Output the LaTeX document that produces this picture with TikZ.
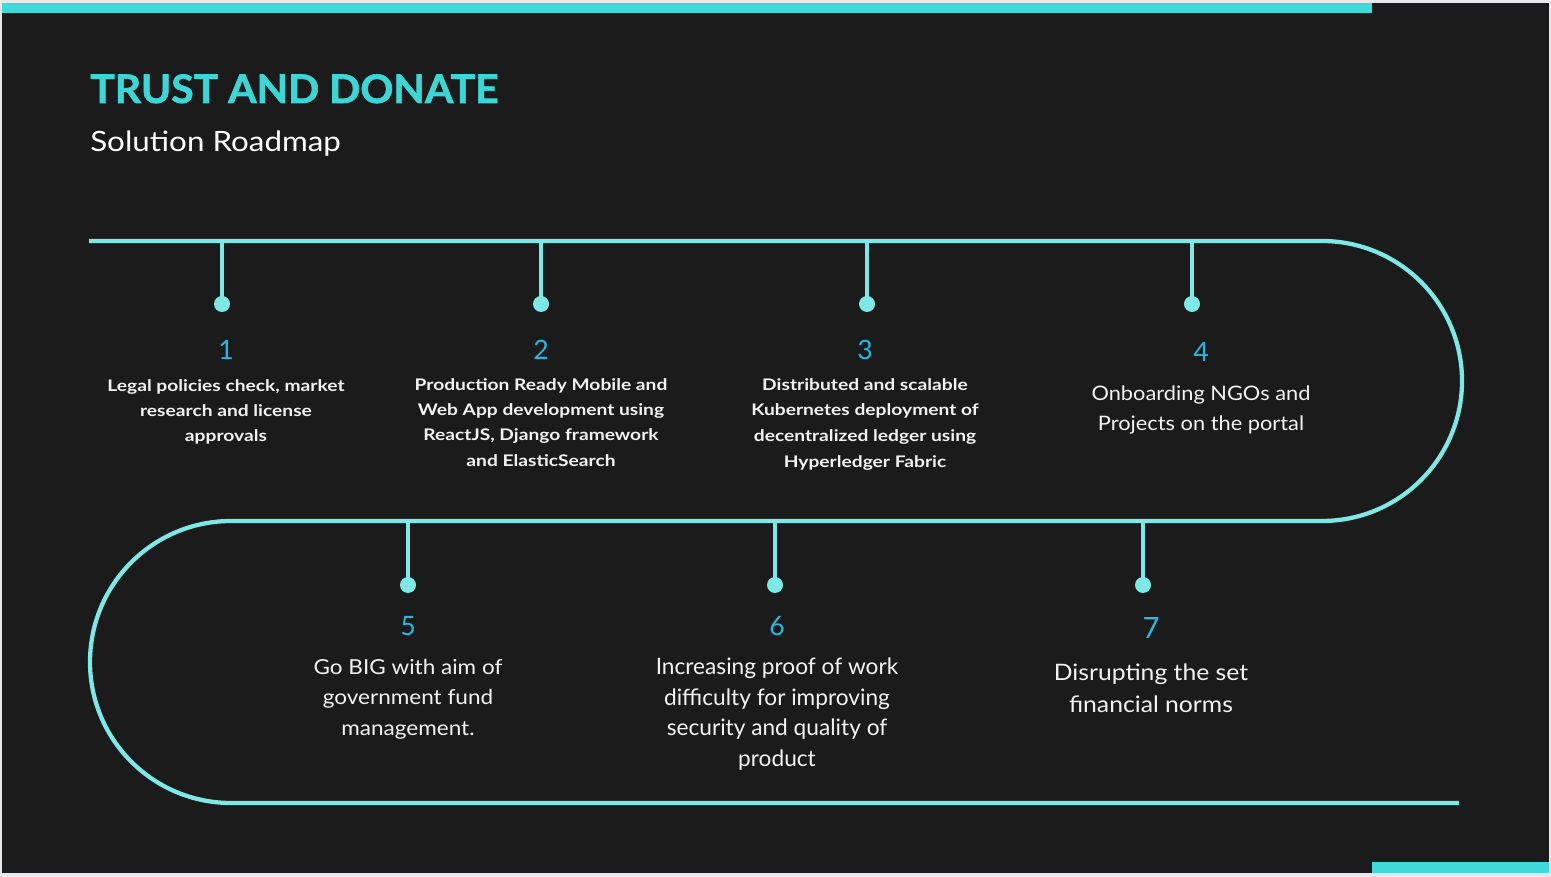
\documentclass[tikz,border=0pt]{standalone}
\usepackage{fontspec}
\setmainfont{Lato}
\setsansfont{Lato}
\newfontfamily\titlefont[FakeStretch=1.04, FakeBold=1.5]{Lato}
\newfontfamily\subfont[FakeStretch=1.12]{Lato}
\newfontfamily\stepfont[FakeStretch=1.2]{Lato}
\newfontfamily\widefont[FakeStretch=1.09]{Lato}
\usetikzlibrary{calc}
\definecolor{slidebg}{HTML}{1B1B1B}
\definecolor{slideedge}{HTML}{E6E8EB}
\definecolor{barcyan}{HTML}{40D9D9}
\definecolor{trackcyan}{HTML}{7EE8E6}
\definecolor{titlecyan}{HTML}{3DD6D6}
\definecolor{stepblue}{HTML}{29B6E0}
\definecolor{steptext}{HTML}{F2F2F2}

\begin{document}
\begin{tikzpicture}[
    x=0.75pt, y=0.75pt,
    track/.style={draw=trackcyan, line width=3.2pt},
    tickline/.style={draw=trackcyan, line width=2.6pt},
    stepdot/.style={circle, fill=trackcyan, inner sep=0pt,
                    minimum size=12pt},
    stepnum/.style={font=\fontsize{20}{24}\selectfont, text=stepblue,
                    inner sep=0pt},
    smalltext/.style={font=\stepfont\bfseries\fontsize{12}{19}\selectfont,
                      text=steptext, align=center, anchor=north,
                      inner sep=0pt},
    largetext/.style={font=\widefont\fontsize{15.5}{22.8}\selectfont,
                      text=steptext, align=center, anchor=north,
                      inner sep=0pt},
  ]

  % -----------------------------------------------------------
  % Slide background and accent bars
  % -----------------------------------------------------------
  \useasboundingbox (0,0) rectangle (1551,877);
  \fill[slideedge] (0,0) rectangle (1551,877);
  \fill[slidebg]   (2,4) rectangle (1549,874);
  \fill[barcyan]   (2,864) rectangle (1372,874);
  \fill[barcyan]   (1372,4) rectangle (1549,15);

  % -----------------------------------------------------------
  % Title
  % -----------------------------------------------------------
  \node[anchor=base west, inner sep=0pt, text=titlecyan,
        font=\titlefont\bfseries\fontsize{29.5}{34}\selectfont] (title)
        at (90,774) {TRUST AND DONATE};
  \node[anchor=base west, inner sep=0pt, text=white,
        font=\subfont\fontsize{21}{25}\selectfont] (subtitle) at (90,725)
        {Solution Roadmap};

  % -----------------------------------------------------------
  % Winding track (top run, right bend, middle run, left bend, bottom run)
  % -----------------------------------------------------------
  \coordinate (trkstart) at (89,636);
  \coordinate (trkright) at (1322,636);
  \coordinate (trkmid)   at (231,356);
  \coordinate (trkend)   at (1459,74);

  \draw[track] (trkstart) -- (trkright)
               arc[start angle=90, end angle=-90, radius=140]
               -- (trkmid)
               arc[start angle=90, end angle=270, radius=141]
               -- (trkend);

  % -----------------------------------------------------------
  % Milestone ticks and dots
  % -----------------------------------------------------------
  \coordinate (t1) at (222,636);
  \coordinate (t2) at (541,636);
  \coordinate (t3) at (867,636);
  \coordinate (t4) at (1192,636);
  \coordinate (t5) at (408,356);
  \coordinate (t6) at (775,356);
  \coordinate (t7) at (1143,356);

  \node[stepdot] (d1) at (222,573) {};
  \node[stepdot] (d2) at (541,573) {};
  \node[stepdot] (d3) at (867,573) {};
  \node[stepdot] (d4) at (1192,573) {};
  \node[stepdot] (d5) at (408,292) {};
  \node[stepdot] (d6) at (775,292) {};
  \node[stepdot] (d7) at (1143,292) {};

  \draw[tickline] (t1) -- (d1.center);
  \draw[tickline] (t2) -- (d2.center);
  \draw[tickline] (t3) -- (d3.center);
  \draw[tickline] (t4) -- (d4.center);
  \draw[tickline] (t5) -- (d5.center);
  \draw[tickline] (t6) -- (d6.center);
  \draw[tickline] (t7) -- (d7.center);

  % -----------------------------------------------------------
  % Step numbers
  % -----------------------------------------------------------
  \node[stepnum] (n1) at (226,527) {1};
  \node[stepnum] (n2) at (541,527) {2};
  \node[stepnum] (n3) at (865,527) {3};
  \node[stepnum] (n4) at (1201,525) {4};
  \node[stepnum] (n5) at (408,251) {5};
  \node[stepnum] (n6) at (777,251) {6};
  \node[stepnum, font=\fontsize{22}{26}\selectfont] (n7) at (1151,249) {7};

  % -----------------------------------------------------------
  % Step descriptions
  % -----------------------------------------------------------
  \node[smalltext] (s1) at (226,498)
        {Legal policies check, market\\research and license\\approvals};
  \node[smalltext] (s2) at (541,499)
        {Production Ready Mobile and\\Web App development using\\
         ReactJS, Django framework\\and ElasticSearch};
  \node[smalltext, font=\stepfont\bfseries\fontsize{12}{19.3}\selectfont]
        (s3) at (865,499)
        {Distributed and scalable\\Kubernetes deployment of\\
         decentralized ledger using\\Hyperledger Fabric};
  \node[largetext, font=\widefont\fontsize{15}{22}\selectfont] (s4)
        at (1201,491) {Onboarding NGOs and\\Projects on the portal};
  \node[largetext] (s5) at (408,218)
        {Go BIG with aim of\\government fund\\management.};
  \node[largetext, font=\fontsize{17}{22.8}\selectfont] (s6) at (777,219)
        {Increasing proof of work\\difficulty for improving\\
         security and quality of\\product};
  \node[largetext, font=\widefont\fontsize{17}{24}\selectfont] (s7)
        at (1151,213) {Disrupting the set\\financial norms};

\end{tikzpicture}
\end{document}
